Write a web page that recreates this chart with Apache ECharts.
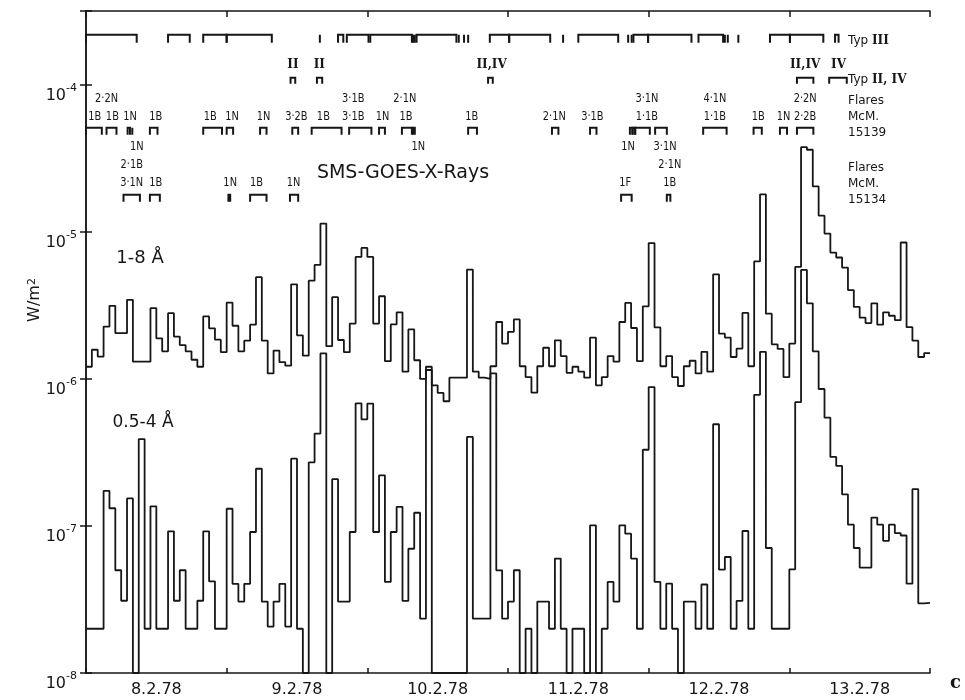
<!DOCTYPE html>
<html>
<head>
<meta charset="utf-8">
<script src="https://cdn.jsdelivr.net/npm/echarts@6/dist/echarts.min.js"></script>
<style>
  html, body { margin: 0; padding: 0; background: #fff; }
  #chart { width: 965px; height: 700px; }
</style>
</head>
<body>
<div id="chart"></div>
<script>
// 时间轴：每天 24 个小时格
const days = ['8.2.78', '9.2.78', '10.2.78', '11.2.78', '12.2.78', '13.2.78'];

// SMS-GOES 小时均值 (W/m2)
const flux1to8 = [
  1.21e-6, 1.58e-6, 1.42e-6, 2.27e-6, 3.14e-6, 2.05e-6, 2.05e-6, 3.45e-6, 1.31e-6, 1.31e-6, 1.31e-6, 3.03e-6,
  1.89e-6, 1.54e-6, 2.8e-6, 1.94e-6, 1.7e-6, 1.54e-6, 1.35e-6, 1.21e-6, 2.66e-6, 2.21e-6, 1.85e-6, 1.52e-6,
  3.3e-6, 2.3e-6, 1.54e-6, 1.82e-6, 2.34e-6, 4.92e-6, 1.82e-6, 1.09e-6, 1.56e-6, 1.3e-6, 1.23e-6, 4.4e-6,
  1.98e-6, 1.44e-6, 4.66e-6, 5.96e-6, 1.14e-5, 1.67e-6, 3.6e-6, 1.84e-6, 1.52e-6, 2.38e-6, 6.76e-6, 7.78e-6,
  6.76e-6, 2.38e-6, 3.65e-6, 1.32e-6, 2.35e-6, 2.84e-6, 1.12e-6, 2.17e-6, 1.34e-6, 1.0e-6, 1.21e-6, 9.05e-7,
  8.03e-7, 7.05e-7, 1.02e-6, 1.02e-6, 1.02e-6, 5.54e-6, 1.12e-6, 1.02e-6, 1.0e-6, 1.22e-6, 2.44e-6, 1.74e-6,
  2.09e-6, 2.54e-6, 1.22e-6, 1.03e-6, 8.07e-7, 1.22e-6, 1.63e-6, 1.22e-6, 1.83e-6, 1.43e-6, 1.1e-6, 1.21e-6,
  1.12e-6, 1.02e-6, 1.91e-6, 9.05e-7, 1.03e-6, 1.43e-6, 1.31e-6, 2.44e-6, 3.29e-6, 2.22e-6, 1.32e-6, 3.12e-6,
  8.4e-6, 2.24e-6, 1.22e-6, 1.43e-6, 1.03e-6, 8.95e-7, 1.22e-6, 1.33e-6, 1.09e-6, 1.53e-6, 1.12e-6, 5.15e-6,
  2.03e-6, 1.91e-6, 1.41e-6, 1.61e-6, 2.81e-6, 1.22e-6, 6.3e-6, 1.8e-5, 2.78e-6, 1.72e-6, 1.6e-6, 1.03e-6,
  1.74e-6, 5.78e-6, 3.77e-5, 3.62e-5, 2.04e-5, 1.29e-5, 9.74e-6, 7.24e-6, 6.7e-6, 5.72e-6, 4.02e-6, 3.09e-6,
  2.61e-6, 2.4e-6, 3.27e-6, 2.34e-6, 2.84e-6, 2.69e-6, 2.51e-6, 8.47e-6, 2.25e-6, 1.82e-6, 1.41e-6, 1.5e-6
];
const flux05to4 = [
  2e-8, 2e-8, 2e-8, 1.73e-7, 1.32e-7, 5.0e-8, 3.1e-8, 1.54e-7, 1e-8, 3.9e-7, 2e-8, 1.36e-7,
  2e-8, 2e-8, 9.2e-8, 3.1e-8, 5.0e-8, 2e-8, 2e-8, 3.1e-8, 9.2e-8, 4.2e-8, 2e-8, 2e-8,
  1.31e-7, 4.04e-8, 3.06e-8, 4.04e-8, 9.1e-8, 2.45e-7, 3.06e-8, 2.07e-8, 3.06e-8, 4.04e-8, 2.07e-8, 2.87e-7,
  2e-8, 1e-8, 2.71e-7, 4.25e-7, 1.49e-6, 1e-8, 2.08e-7, 3.06e-8, 3.06e-8, 9.1e-8, 6.83e-7, 5.31e-7,
  6.8e-7, 9.1e-8, 2.21e-7, 4.16e-8, 9.1e-8, 1.35e-7, 3.09e-8, 7.0e-8, 1.23e-7, 2.34e-8, 1.15e-6, 1e-8,
  1e-8, 1e-8, 1e-8, 1e-8, 1e-8, 4.03e-7, 2.34e-8, 2.34e-8, 2.34e-8, 1.09e-6, 4.99e-8, 2.34e-8,
  3.06e-8, 5.0e-8, 1e-8, 2e-8, 1e-8, 3.06e-8, 3.06e-8, 2e-8, 6.0e-8, 2e-8, 1e-8, 2e-8,
  2e-8, 1e-8, 1.01e-7, 1e-8, 2e-8, 4.16e-8, 3.06e-8, 1.01e-7, 8.87e-8, 6.0e-8, 2e-8, 3.3e-7,
  8.8e-7, 4.16e-8, 2e-8, 4.05e-8, 2e-8, 1e-8, 3.06e-8, 3.06e-8, 2e-8, 4.0e-8, 2e-8, 4.92e-7,
  5.04e-8, 6.15e-8, 2e-8, 3.09e-8, 9.24e-8, 2e-8, 7.8e-7, 1.53e-6, 7.08e-8, 2e-8, 2e-8, 2e-8,
  5.07e-8, 6.95e-7, 5.51e-6, 3.27e-6, 1.54e-6, 8.54e-7, 5.45e-7, 2.95e-7, 2.56e-7, 1.64e-7, 1.02e-7, 7.08e-8,
  5.21e-8, 5.21e-8, 1.14e-7, 1.02e-7, 7.92e-8, 1.02e-7, 8.95e-8, 8.61e-8, 4.05e-8, 1.78e-7, 2.98e-8, 3e-8
];

// 射电爆发 / 耀斑时段，单位：小时 (从 8.2.78 0h 开始) [开始, 结束]
const typ3Bursts = [[0, 8.65], [14.0, 17.7], [20.0, 24.0], [24.0, 31.7], [39.9, 39.9], [43.0, 43.9], [44.5, 48.2],
  [48.5, 55.6], [55.8, 55.8], [56.1, 56.1], [56.4, 63.2], [63.6, 63.6], [64.5, 64.5], [65.2, 65.2], [68.9, 72.2],
  [72.2, 79.2], [81.4, 81.4], [84.0, 90.8], [92.5, 92.5], [93.1, 93.1], [93.4, 95.9], [95.9, 103.3], [104.5, 108.7],
  [109.0, 109.0], [109.5, 109.5], [111.3, 111.3], [116.7, 120.1], [120.1, 125.8], [127.8, 128.4]];
const typ24Bursts = [[34.9, 35.7], [39.4, 40.3], [68.6, 69.4], [121.3, 124.1], [126.8, 129.8]];
const typ24Labels = [[35.3, 'II'], [39.8, 'II'], [69.2, 'II,IV'], [122.7, 'II,IV'], [128.4, 'IV']];

const flares15139 = [[0, 2.7], [3.5, 5.2], [7.1, 7.5], [7.9, 7.9], [10.9, 12.2], [20.0, 23.2], [24.0, 25.1],
  [29.7, 30.8], [35.2, 36.2], [38.5, 43.6], [44.9, 48.7], [50.0, 51.0], [53.9, 55.6], [55.8, 56.1], [65.2, 66.7],
  [79.5, 80.6], [86.0, 87.1], [92.8, 93.2], [93.3, 93.7], [93.7, 96.2], [97.1, 99.1], [105.3, 109.3], [113.9, 115.3],
  [118.4, 119.6], [121.3, 124.1]];
const labels15139Top = [[3.5, '2·2N'], [45.6, '3·1B'], [54.4, '2·1N'], [95.7, '3·1N'], [107.3, '4·1N'], [122.7, '2·2N']];
const labels15139 = [[1.5, '1B'], [4.5, '1B'], [7.5, '1N'], [11.9, '1B'], [21.2, '1B'], [24.9, '1N'], [30.3, '1N'],
  [35.9, '3·2B'], [40.5, '1B'], [45.6, '3·1B'], [50.6, '1N'], [54.6, '1B'], [65.8, '1B'], [79.9, '2·1N'],
  [86.4, '3·1B'], [95.7, '1·1B'], [107.3, '1·1B'], [114.7, '1B'], [119.0, '1N'], [122.7, '2·2B']];
const labels15139Below = [[8.65, '1N'], [56.7, '1N'], [92.5, '1N'], [98.8, '3·1N']];

const flares15134 = [[6.4, 9.2], [10.9, 12.6], [24.3, 24.6], [28.0, 30.8], [34.8, 36.2], [91.3, 93.1], [99.1, 99.7]];
const labels15134Top = [[7.8, '2·1B'], [99.6, '2·1N']];
const labels15134 = [[7.8, '3·1N'], [11.9, '1B'], [24.6, '1N'], [29.1, '1B'], [35.4, '1N'], [92.0, '1F'], [99.6, '1B']];

const INK = '#161616';
const SANS = '"DejaVu Sans", sans-serif';
const SERIF = '"DejaVu Serif", serif';
const Y_MIN = 1e-8;
const Y_MAX = 3.18e-4;

// 每行标注在对数轴上的高度
const LV = {
  typ3: 2.19e-4, typ24: 1.12e-4, typ24Txt: 1.37e-4,
  f39a: 8.03e-5, f39b: 6.08e-5, f39Brk: 5.1e-5, f39c: 3.8e-5,
  f34a: 2.86e-5, f34b: 2.16e-5, f34Brk: 1.79e-5
};

const hourly = (vals) => vals.map((v, h) => [h, v]).concat([[vals.length, vals[vals.length - 1]]]);

function bracketSeries (list, level, leg) {
  return {
    type: 'custom',
    silent: true,
    z: 5,
    data: list.map((b) => [b[0], b[1], level]),
    encode: { x: [0, 1], y: 2 },
    renderItem: (params, api) => {
      const a = api.coord([api.value(0), api.value(2)])
      const b = api.coord([api.value(1), api.value(2)])
      return {
        type: 'polyline',
        shape: { points: [[a[0], a[1] + leg], a, b, [b[0], b[1] + leg]] },
        style: { stroke: INK, lineWidth: 2, fill: null }
      }
    }
  }
}

function labelSeries (list, level, font, sx) {
  return {
    type: 'custom',
    silent: true,
    z: 5,
    data: list.map((l) => [l[0], level]),
    encode: { x: 0, y: 1 },
    renderItem: (params, api) => {
      const p = api.coord([api.value(0), api.value(1)])
      return {
        type: 'text',
        x: p[0],
        y: p[1],
        scaleX: sx,
        style: { text: list[params.dataIndex][1], font: font, fill: INK, align: 'center', verticalAlign: 'middle' }
      }
    }
  }
}

const stepLine = (vals) => ({
  type: 'line',
  step: 'end',
  data: hourly(vals),
  symbol: 'none',
  silent: true,
  z: 3,
  lineStyle: { color: INK, width: 1.8 }
})

const flareFont = '12px ' + SANS
const romanFont = 'bold 12px ' + SERIF

const mChart = echarts.init(document.getElementById('chart'))
const options = {
  animation: false,
  backgroundColor: '#fff',
  grid: { left: 86, right: 35, top: 11, bottom: 27 },
  xAxis: [
    {
      type: 'value', min: 0, max: 144, interval: 24, position: 'bottom',
      axisLine: { lineStyle: { color: INK, width: 1.5 } },
      axisTick: { inside: true, length: 5, lineStyle: { color: INK, width: 1.5 } },
      axisLabel: { show: false },
      splitLine: { show: false }
    },
    {
      type: 'category', data: days, position: 'bottom', boundaryGap: true,
      axisLine: { show: false },
      axisTick: { inside: false, length: 16, lineStyle: { color: INK, width: 1.5 } },
      axisLabel: { margin: 9, fontSize: 16, fontFamily: SANS, color: INK },
      splitLine: { show: false }
    },
    {
      type: 'value', min: 0, max: 144, interval: 24, position: 'top',
      axisLine: { lineStyle: { color: INK, width: 1.5 } },
      axisTick: { inside: true, length: 6, lineStyle: { color: INK, width: 1.5 } },
      axisLabel: { show: false },
      splitLine: { show: false }
    }
  ],
  yAxis: [
    {
      type: 'log', logBase: 10, min: Y_MIN, max: Y_MAX, position: 'left',
      axisLine: { show: true, lineStyle: { color: INK, width: 1.5 } },
      axisTick: { show: true, inside: true, length: 6, lineStyle: { color: INK, width: 1.5 } },
      splitLine: { show: false },
      axisLabel: {
        margin: 9,
        formatter: (v) => {
          const e = Math.log10(v)
          const r = Math.round(e)
          if (Math.abs(e - r) > 1e-6) return ''
          return '{b|10}{s|' + r + '}'
        },
        rich: {
          b: { fontSize: 16, fontFamily: SANS, color: INK, padding: [22, 0, 0, 0] },
          s: { fontSize: 11, fontFamily: SANS, color: INK, verticalAlign: 'top', padding: [17, 0, 0, 0] }
        }
      }
    },
    {
      type: 'log', logBase: 10, min: Y_MIN, max: Y_MAX, position: 'right',
      axisLine: { show: true, lineStyle: { color: INK, width: 1.5 } },
      axisTick: { show: true, inside: true, length: 6, lineStyle: { color: INK, width: 1.5 } },
      axisLabel: { show: false },
      splitLine: { show: false }
    }
  ],
  series: [
    stepLine(flux1to8),
    stepLine(flux05to4),
    bracketSeries(typ3Bursts, LV.typ3, 8),
    bracketSeries(typ24Bursts, LV.typ24, 6),
    labelSeries(typ24Labels, LV.typ24Txt, romanFont, 1),
    bracketSeries(flares15139, LV.f39Brk, 7),
    labelSeries(labels15139Top, LV.f39a, flareFont, 0.82),
    labelSeries(labels15139, LV.f39b, flareFont, 0.82),
    labelSeries(labels15139Below, LV.f39c, flareFont, 0.82),
    bracketSeries(flares15134, LV.f34Brk, 7),
    labelSeries(labels15134Top, LV.f34a, flareFont, 0.82),
    labelSeries(labels15134, LV.f34b, flareFont, 0.82)
  ],
  graphic: [
    {
      type: 'text', x: 848, y: 41,
      style: {
        text: '{a|Typ }{r|III}', verticalAlign: 'middle', fill: INK,
        rich: { a: { font: '12px ' + SANS }, r: { font: romanFont } }
      }
    },
    {
      type: 'text', x: 848, y: 80,
      style: {
        text: '{a|Typ }{r|II, IV}', verticalAlign: 'middle', fill: INK,
        rich: { a: { font: '12px ' + SANS }, r: { font: romanFont } }
      }
    },
    { type: 'text', x: 848, y: 117, style: { text: 'Flares\nMcM.\n15139', font: '12px ' + SANS, lineHeight: 16, fill: INK, verticalAlign: 'middle' } },
    { type: 'text', x: 848, y: 184, style: { text: 'Flares\nMcM.\n15134', font: '12px ' + SANS, lineHeight: 16, fill: INK, verticalAlign: 'middle' } },
    { type: 'text', x: 403, y: 173, style: { text: 'SMS-GOES-X-Rays', font: '19px ' + SANS, fill: INK, align: 'center', verticalAlign: 'middle' } },
    { type: 'text', x: 140, y: 258, style: { text: '1-8 Å', font: '18px ' + SANS, fill: INK, align: 'center', verticalAlign: 'middle' } },
    { type: 'text', x: 143, y: 423, style: { text: '0.5-4 Å', font: '17px ' + SANS, fill: INK, align: 'center', verticalAlign: 'middle' } },
    {
      type: 'text', x: 35, y: 300, rotation: Math.PI / 2,
      style: {
        text: '{a|W/m}{s|2}', align: 'center', verticalAlign: 'middle', fill: INK,
        rich: { a: { font: '16px ' + SANS }, s: { font: '11px ' + SANS, verticalAlign: 'top' } }
      }
    },
    { type: 'text', x: 950, y: 683, style: { text: 'c', font: 'bold 18px ' + SERIF, fill: INK, verticalAlign: 'middle' } }
  ]
}
mChart.setOption(options)
</script>
</body>
</html>
